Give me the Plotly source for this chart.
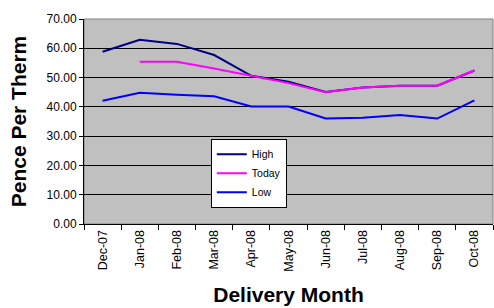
import plotly.graph_objects as go

months = ["Dec-07", "Jan-08", "Feb-08", "Mar-08", "Apr-08", "May-08",
          "Jun-08", "Jul-08", "Aug-08", "Sep-08", "Oct-08"]
high = [58.8, 62.9, 61.5, 57.7, 50.6, 48.6, 45.1, 46.6, 47.2, 47.2, 52.4]
today = [None, 55.4, 55.4, 53.1, 50.5, 48.1, 45.0, 46.6, 47.2, 47.2, 52.4]
low = [42.1, 44.8, 44.1, 43.6, 40.1, 40.1, 36.0, 36.3, 37.2, 36.0, 42.2]

fig = go.Figure()
fig.add_trace(go.Scatter(x=months, y=high, name="High", mode="lines",
                         line=dict(color="#000080", width=2)))
fig.add_trace(go.Scatter(x=months, y=today, name="Today", mode="lines",
                         line=dict(color="#FF00FF", width=2)))
fig.add_trace(go.Scatter(x=months, y=low, name="Low", mode="lines",
                         line=dict(color="#0000FF", width=2)))

fig.update_layout(
    width=494, height=308,
    margin=dict(l=84, r=1, t=19, b=84, autoexpand=False),
    paper_bgcolor="white",
    plot_bgcolor="#C0C0C0",
    font=dict(family="Arial, Liberation Sans, sans-serif", size=11, color="black"),
    showlegend=True,
    legend=dict(x=0.31, y=0.416, xanchor="left", yanchor="top",
                bgcolor="white", bordercolor="black", borderwidth=1,
                font=dict(size=10.5), tracegroupgap=0),
    xaxis=dict(
        type="category", tickangle=-90, tickson="boundaries",
        ticks="outside", ticklen=5, tickcolor="black",
        tickfont=dict(size=12.5),
        showline=True, linecolor="black", linewidth=1,
        showgrid=False, mirror=False, automargin=False,
        range=[-0.5, 10.5],
        title=dict(text="<b>Delivery Month</b>", font=dict(size=21), standoff=16),
    ),
    yaxis=dict(
        range=[0, 70], dtick=10, tickformat=".2f",
        ticks="outside", ticklen=4, tickcolor="black",
        tickfont=dict(size=12),
        showline=True, linecolor="black", linewidth=1,
        showgrid=True, gridcolor="black", gridwidth=1,
        zeroline=False, automargin=False,
        title=dict(text="<b>Pence Per Therm</b>", font=dict(size=21), standoff=14),
    ),
)
fig.add_shape(type="rect", xref="paper", yref="paper", x0=0, x1=1, y0=0, y1=1,
              line=dict(color="#808080", width=1), layer="below")

fig.write_html("out.html", config={"displayModeBar": False},
               post_script="document.body.style.margin='0';document.body.style.overflow='hidden';")
